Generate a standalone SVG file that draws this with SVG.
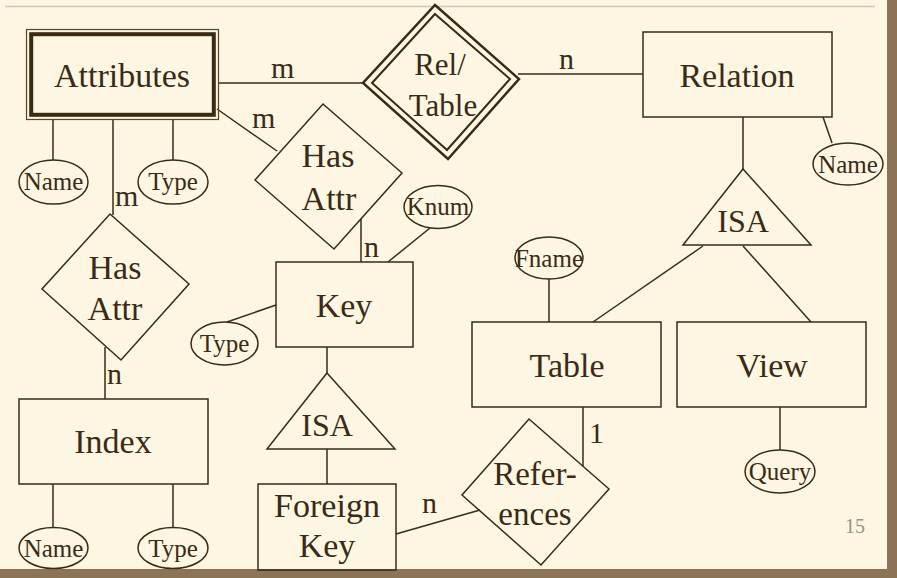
<svg xmlns="http://www.w3.org/2000/svg" width="897" height="578" viewBox="0 0 897 578">
<style>
  .bg { fill: #FCF6E2; }
  .shape { fill: none; stroke: #3B2A14; stroke-width: 1.5; }
  .line { fill: none; stroke: #3B2A14; stroke-width: 1.5; }
  .t { font-family: "Liberation Serif", "Times New Roman", serif; fill: #3B2A14; text-anchor: middle; }
  .big { font-size: 34px; }
  .mid { font-size: 32px; }
  .sm { font-size: 25px; }
  .card { font-size: 30px; text-anchor: start; }
</style>
<rect class="bg" x="0" y="0" width="897" height="578"/>
<line x1="5" y1="6.5" x2="875" y2="6.5" stroke="#CFC7AE" stroke-width="1.5"/>
<rect x="887" y="0" width="10" height="578" fill="#8B7355"/>
<rect x="0" y="569" width="897" height="9" fill="#8B7355"/>

<g id="connectors">
  <line class="line" x1="219" y1="83" x2="364" y2="83"/>
  <line class="line" x1="518" y1="74" x2="643" y2="74"/>
  <line class="line" x1="217" y1="109" x2="277" y2="151"/>
  <line class="line" x1="113" y1="119" x2="113" y2="215"/>
  <line class="line" x1="53" y1="119" x2="53" y2="160"/>
  <line class="line" x1="173" y1="119" x2="173" y2="160"/>
  <line class="line" x1="105" y1="347" x2="105" y2="399"/>
  <line class="line" x1="53" y1="484" x2="53" y2="528"/>
  <line class="line" x1="173" y1="484" x2="173" y2="528"/>
  <line class="line" x1="361" y1="219" x2="361" y2="262"/>
  <line class="line" x1="430" y1="228" x2="388" y2="262"/>
  <line class="line" x1="227" y1="322" x2="276" y2="305"/>
  <line class="line" x1="327" y1="347" x2="327" y2="373"/>
  <line class="line" x1="327" y1="449" x2="327" y2="484"/>
  <line class="line" x1="396" y1="534" x2="480" y2="510"/>
  <line class="line" x1="583" y1="407" x2="583" y2="466"/>
  <line class="line" x1="743" y1="117" x2="743" y2="169"/>
  <line class="line" x1="823" y1="117" x2="832" y2="143"/>
  <line class="line" x1="703" y1="246" x2="593" y2="322"/>
  <line class="line" x1="743" y1="246" x2="811" y2="322"/>
  <line class="line" x1="549" y1="279" x2="549" y2="322"/>
  <line class="line" x1="780" y1="407" x2="780" y2="450"/>
  <text class="t card" x="271" y="78">m</text>
  <text class="t card" x="252" y="128">m</text>
  <text class="t card" x="115" y="206">m</text>
  <text class="t card" x="107" y="384">n</text>
  <text class="t card" x="364" y="257">n</text>
  <text class="t card" x="422" y="513">n</text>
  <text class="t card" x="559" y="69">n</text>
  <text class="t card" x="589" y="443">1</text>
</g>

<g id="attributes">
  <rect x="26.5" y="29.5" width="192" height="90" fill="none" stroke="#5A4428" stroke-width="1.2"/>
  <rect x="31.2" y="34.2" width="182.6" height="80.6" fill="none" stroke="#3B2A14" stroke-width="4"/>
  <text class="t big" x="122" y="87">Attributes</text>
</g>

<g id="rel-table">
  <polygon points="435,5 519,79 448,159 363,83" fill="none" stroke="#3B2A14" stroke-width="2.5"/>
  <polygon points="435,14 510,79 447,150 372,83" fill="none" stroke="#3B2A14" stroke-width="2"/>
  <text class="t" font-size="31" x="440" y="75">Rel/</text>
  <text class="t" font-size="31" x="443" y="116">Table</text>
</g>

<g id="relation">
  <rect class="shape" x="643" y="32" width="189" height="85"/>
  <text class="t big" x="737" y="87">Relation</text>
</g>

<g id="relation-name">
  <ellipse class="shape" cx="848" cy="164" rx="35" ry="21"/>
  <text class="t sm" x="848" y="173">Name</text>
</g>

<g id="attr-name">
  <ellipse class="shape" cx="53.5" cy="182" rx="34.5" ry="22"/>
  <text class="t sm" x="53.5" y="190">Name</text>
</g>

<g id="attr-type">
  <ellipse class="shape" cx="173" cy="182" rx="35" ry="22"/>
  <text class="t sm" x="173" y="190">Type</text>
</g>

<g id="has-attr-left">
  <polygon class="shape" points="110,214 189,284 121,360 42,289"/>
  <text class="t big" x="115" y="279">Has</text>
  <text class="t big" x="115" y="320">Attr</text>
</g>

<g id="has-attr-mid">
  <polygon class="shape" points="323,104 402,173 334,249 255,180"/>
  <text class="t big" x="328" y="167">Has</text>
  <text class="t big" x="329" y="210">Attr</text>
</g>

<g id="knum">
  <ellipse class="shape" cx="438" cy="207" rx="34" ry="21.5"/>
  <text class="t sm" x="438" y="215">Knum</text>
</g>

<g id="key">
  <rect class="shape" x="276" y="262" width="137" height="85"/>
  <text class="t big" x="344" y="317">Key</text>
</g>

<g id="key-type">
  <ellipse class="shape" cx="224.5" cy="343.5" rx="33.5" ry="21.5"/>
  <text class="t sm" x="224.5" y="352">Type</text>
</g>

<g id="index">
  <rect class="shape" x="19" y="399" width="189" height="85"/>
  <text class="t big" x="113" y="453">Index</text>
</g>

<g id="index-name">
  <ellipse class="shape" cx="53.5" cy="548" rx="34.5" ry="20.5"/>
  <text class="t sm" x="53.5" y="557">Name</text>
</g>

<g id="index-type">
  <ellipse class="shape" cx="173" cy="548" rx="35" ry="20.5"/>
  <text class="t sm" x="173" y="557">Type</text>
</g>

<g id="isa-key">
  <polygon class="shape" points="327,373 395,449 267,449"/>
  <text class="t mid" x="327" y="436">ISA</text>
</g>

<g id="foreign-key">
  <rect class="shape" x="258" y="484" width="138" height="86"/>
  <text class="t big" x="327" y="517">Foreign</text>
  <text class="t big" x="327" y="557">Key</text>
</g>

<g id="references">
  <polygon class="shape" points="529,419 609,489 541,565 462,495"/>
  <text class="t" font-size="33" x="535" y="485">Refer-</text>
  <text class="t" font-size="33" x="535" y="525">ences</text>
</g>

<g id="isa-relation">
  <polygon class="shape" points="743,169 811,245 683,245"/>
  <text class="t mid" x="743" y="232">ISA</text>
</g>

<g id="fname">
  <ellipse class="shape" cx="549" cy="258" rx="34" ry="21"/>
  <text class="t sm" x="549" y="267">Fname</text>
</g>

<g id="table">
  <rect class="shape" x="472" y="322" width="189" height="85"/>
  <text class="t big" x="567" y="377">Table</text>
</g>

<g id="view">
  <rect class="shape" x="677" y="322" width="189" height="85"/>
  <text class="t big" x="772" y="377">View</text>
</g>

<g id="query">
  <ellipse class="shape" cx="780" cy="471.5" rx="35" ry="21.5"/>
  <text class="t sm" x="780" y="480">Query</text>
</g>

<text font-family="Liberation Serif, Times New Roman, serif" font-size="20" fill="#9A9080" x="845" y="533">15</text>
</svg>
